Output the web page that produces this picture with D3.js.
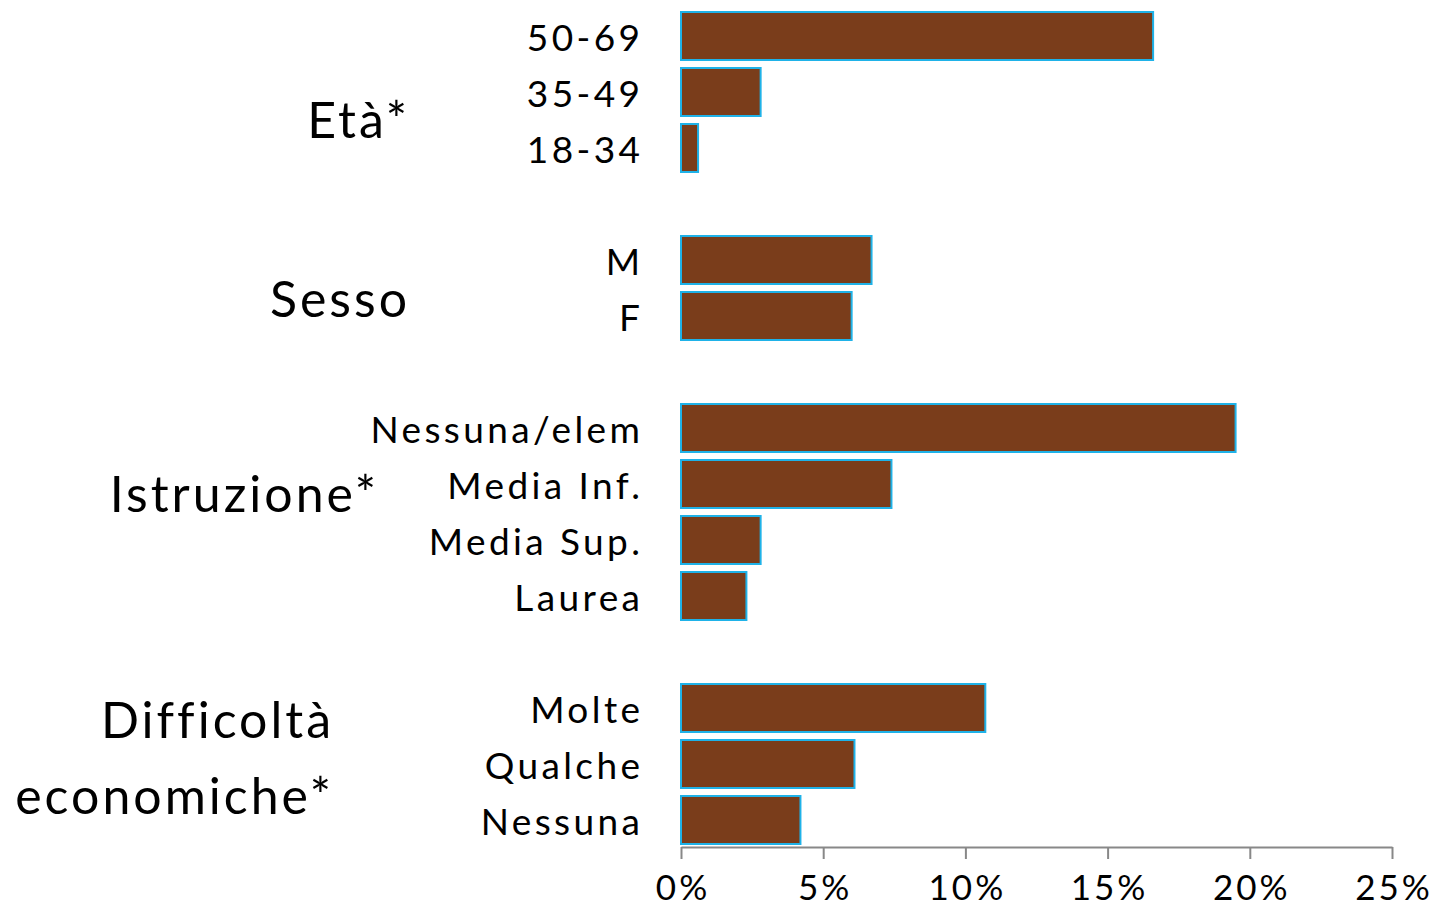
<!DOCTYPE html>
<html><head><meta charset="utf-8">
<script src="https://cdn.jsdelivr.net/npm/d3@7"></script>
<style>body{margin:0;background:#fff}svg{display:block}text{font-family:Lato,"Noto Sans",sans-serif;fill:#000}</style>
</head><body><svg id="c" width="1437" height="910"></svg>
<script>
const categories = ["50-69","35-49","18-34","M","F","Nessuna/elem","Media Inf.","Media Sup.","Laurea","Molte","Qualche","Nessuna"];
const groupOf = ["eta","eta","eta","sesso","sesso","istr","istr","istr","istr","diff","diff","diff"];
const values = [16.6,2.8,0.6,6.7,6.0,19.5,7.4,2.8,2.3,10.7,6.1,4.2];
const groupKeys = ["eta","sesso","istr","diff"];
const groupLabels = [["Età*"],["Sesso"],["Istruzione*"],["Difficoltà","economiche*"]];
const tickValues = [0,5,10,15,20,25];

// layout (not data)
const groupRight = {eta:407, sesso:407, istr:376, diff:331};
const groupShift = {eta:27, sesso:10, istr:-19, diff:-7};

const rows = [];
groupKeys.forEach((g,gi)=>{
  if(gi>0) rows.push({key:"gap"+gi, gap:true});
  categories.forEach((c,i)=>{ if(groupOf[i]===g) rows.push({key:g+"|"+c, cat:c, val:values[i], group:g}); });
});

const svg = d3.select("#c");
const x = d3.scaleLinear().domain([0,25]).range([681,1392]);
const y = d3.scaleBand().domain(rows.map(r=>r.key)).range([8,848]).paddingInner(8/56).paddingOuter(4/56);

svg.append("g").selectAll("rect").data(rows.filter(r=>!r.gap)).join("rect")
  .attr("x", x(0)).attr("y", d=>y(d.key))
  .attr("width", d=>x(d.val)-x(0)).attr("height", y.bandwidth())
  .attr("fill","#7a3d1b").attr("stroke","#1fb2e8").attr("stroke-width",2);

const ls = 3.4;
svg.append("g").selectAll("text").data(rows.filter(r=>!r.gap)).join("text")
  .attr("x",640+ls).attr("y", d=>y(d.key)+y.bandwidth()/2)
  .attr("text-anchor","end").attr("dominant-baseline","central")
  .style("font-size","37px").style("letter-spacing",ls+"px").text(d=>d.cat);

groupKeys.forEach((g,gi)=>{
  const gr = rows.filter(r=>r.group===g);
  const c = (y(gr[0].key) + y(gr[gr.length-1].key) + y.bandwidth())/2 + groupShift[g];
  const lines = groupLabels[gi];
  const lh = 76;
  lines.forEach((l,li)=>{
    svg.append("text").attr("x",groupRight[g]+3).attr("y", c + (li-(lines.length-1)/2)*lh)
      .attr("text-anchor","end").attr("dominant-baseline","central")
      .style("font-size","50px").style("letter-spacing","3px").text(l);
  });
});

const ax = svg.append("g").attr("transform","translate(0,847)")
  .call(d3.axisBottom(x).tickValues(tickValues).tickSize(12).tickSizeOuter(0).tickFormat(d=>d+"%"));
ax.select(".domain").attr("stroke","#888").attr("stroke-width",2);
ax.selectAll(".tick line").attr("stroke","#888").attr("stroke-width",2);
ax.selectAll(".tick text").attr("dy",null).attr("y",39).attr("x",1.5).attr("dominant-baseline","central")
  .style("font-size","35px").style("letter-spacing","3px")
  .style("font-family","Lato,'Noto Sans',sans-serif").attr("fill","#000");
</script></body></html>
